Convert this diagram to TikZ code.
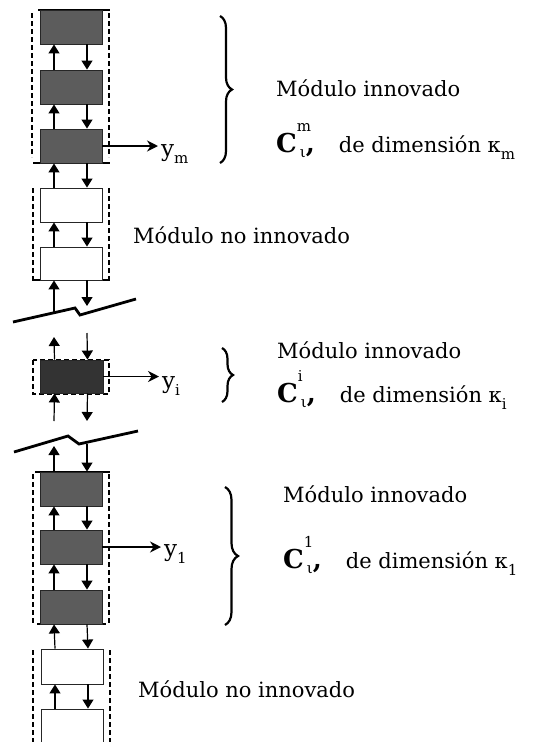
\documentclass[tikz,border=0pt]{standalone}
\usepackage{fontspec}
\setmainfont{DejaVu Serif}
\usetikzlibrary{arrows.meta,decorations.pathreplacing}
\newcommand{\Cmod}[1]{{\fontsize{26}{26}\selectfont\bfseries C}\rlap{\raisebox{21pt}{\fontsize{15}{15}\selectfont #1}}\kern3pt\raisebox{-5pt}{\fontsize{15}{15}\selectfont ι}{\fontsize{26}{26}\selectfont\bfseries ,}\hspace{24pt}}
\newcommand{\lowsub}[1]{\raisebox{-7pt}{\fontsize{15}{15}\selectfont #1}}
\begin{document}
\begin{tikzpicture}[x=1pt,y=-1pt,
  modbox/.style={draw=black!85, line width=0.9pt, minimum width=62pt, minimum height=34pt, inner sep=0pt},
  inno/.style={modbox, fill=black!64},
  innodark/.style={modbox, fill=black!80},
  plain/.style={modbox, fill=white},
  flow/.style={line width=1.2pt, -{Triangle[length=9pt,width=11pt]}},
  outarrow/.style={line width=1.8pt, -{Stealth[length=11pt,width=11pt]}},
  dashedline/.style={line width=1.8pt, dash pattern=on 5pt off 3pt},
  solidline/.style={line width=1.3pt},
  breakline/.style={line width=2.8pt, line join=miter},
  bracestyle/.style={line width=2.2pt, decorate, decoration={brace, amplitude=12pt}},
  lbl/.style={anchor=base west, inner sep=0pt, font=\fontsize{21}{25}\selectfont},
  ylbl/.style={anchor=base west, inner sep=0pt, font=\fontsize{23}{25}\selectfont},
]
\useasboundingbox (0,0) rectangle (558,742);

% dashed frames and solid lines
\draw[dashedline] (32,13) -- (32,157);
\draw[dashedline] (109,13) -- (109,157);
\draw[solidline] (38,10) -- (110,10);
\draw[solidline] (33,163) -- (110,163);

\draw[dashedline] (33,188) -- (33,280);
\draw[dashedline] (109,188) -- (109,280);
\draw[solidline] (32,280) -- (110,280);

\draw[dashedline] (33,360) rectangle (109,394);

\draw[solidline] (35,472) -- (110,472);
\draw[dashedline] (33,474) -- (33,624);
\draw[dashedline] (109,474) -- (109,624);
\draw[solidline] (37,624) -- (106,624);

\draw[dashedline] (33,650) -- (33,742);
\draw[dashedline] (110,650) -- (110,742);

% boxes
\node[inno] (b1) at (71,27) {};
\node[inno] (b2) at (71,87) {};
\node[inno] (b3) at (71,146) {};
\node[plain] (b4) at (71,205) {};
\node[plain, minimum height=33pt] (b5) at (71,263.5) {};
\node[innodark, minimum width=63pt, minimum height=33pt] (bi) at (71.5,376.5) {};
\node[inno] (b6) at (71,489) {};
\node[inno] (b7) at (71,547) {};
\node[inno] (b8) at (71,607) {};
\node[plain, minimum height=35pt] (b9) at (72,666.5) {};
\node[plain] (b10) at (72,726) {};

% arrows between stacked boxes
\foreach \lo/\hi in {b2/b1,b3/b2,b4/b3,b5/b4,b7/b6,b8/b7,b9/b8,b10/b9}{
  \draw[flow] ([xshift=-17pt]\lo.north) -- ([xshift=-17pt]\hi.south);
  \draw[flow] ([xshift=16pt]\hi.south) -- ([xshift=16pt]\lo.north);
}

% break lines
\coordinate (k1a) at (13,322);
\coordinate (k1b) at (75,308);
\coordinate (k1c) at (80,315);
\coordinate (k1d) at (136,299);
\draw[breakline] (k1a) -- (k1b) -- (k1c) -- (k1d);
\coordinate (k2a) at (14,452);
\coordinate (k2b) at (68,436);
\coordinate (k2c) at (79,444);
\coordinate (k2d) at (138,431);
\draw[breakline] (k2a) -- (k2b) -- (k2c) -- (k2d);

% arrows around the breaks
\coordinate (u1) at (54,312);
\coordinate (d1) at (87,306);
\draw[flow] (u1) -- ([xshift=-17pt]b5.south);
\draw[flow] ([xshift=16pt]b5.south) -- (d1);

\coordinate (u2) at (54,337);
\coordinate (d2) at (87,333);
\draw[flow] ([xshift=-17pt]bi.north) -- (u2);
\draw[flow] (d2) -- ([xshift=16pt]bi.north);

\coordinate (u3) at (54,421);
\coordinate (d3) at (87,421);
\draw[flow] (u3) -- ([xshift=-17pt]bi.south);
\draw[flow] ([xshift=16pt]bi.south) -- (d3);

\coordinate (u4) at (54,446);
\coordinate (d4) at (87,444);
\draw[flow] ([xshift=-17pt]b6.north) -- (u4);
\draw[flow] (d4) -- ([xshift=16pt]b6.north);

% outputs
\node[ylbl] (ym) at (161,156) {y\lowsub{m}};
\node[ylbl] (yi) at (162,388) {y\lowsub{i}};
\node[ylbl] (y1) at (164,556) {y\lowsub{1}};
\draw[outarrow] (b3.east) -- ([xshift=-3pt]b3.east -| ym.west);
\draw[outarrow] (bi.east) -- ([xshift=-3pt]bi.east -| yi.west);
\draw[outarrow] (b7.east) -- ([xshift=-3pt]b7.east -| y1.west);

% braces
\draw[bracestyle] (220,16) -- (220,163);
\draw[bracestyle, decoration={amplitude=11pt}] (222,348) -- (222,402);
\draw[bracestyle, decoration={amplitude=13pt}] (225,487) -- (225,625);

% texts
\node[lbl] (t1a) at (276,96) {Módulo innovado};
\node[lbl] (t1b) at (276,152) {\Cmod{m}de dimensión κ\lowsub{m}};
\node[lbl] (n1) at (133,243) {Módulo no innovado};
\node[lbl] (t2a) at (277,358) {Módulo innovado};
\node[lbl] (t2b) at (277,402) {\Cmod{i}de dimensión κ\lowsub{i}};
\node[lbl] (t3a) at (283,502) {Módulo innovado};
\node[lbl] (t3b) at (283,568) {\Cmod{1}de dimensión κ\lowsub{1}};
\node[lbl] (n2) at (138,697) {Módulo no innovado};
\end{tikzpicture}
\end{document}
